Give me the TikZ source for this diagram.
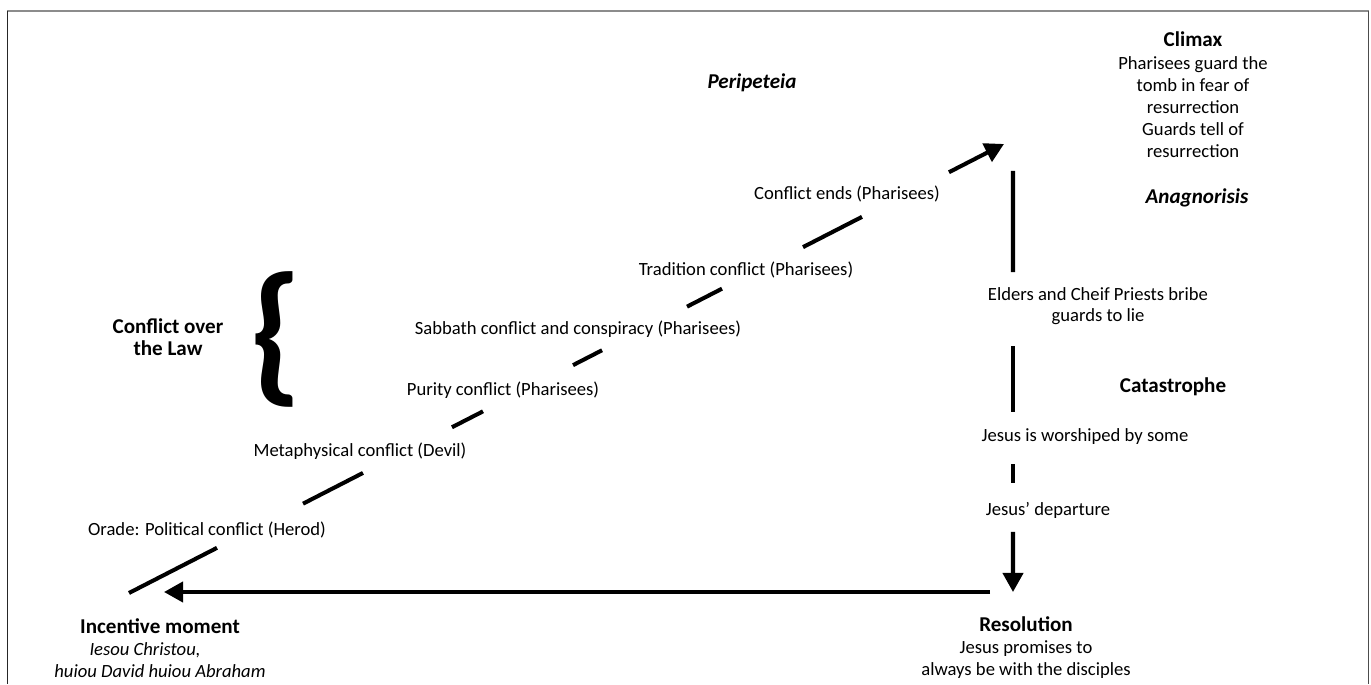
\documentclass[tikz,border=0pt]{standalone}
\usepackage{fontspec}
\setmainfont{Carlito}
\usetikzlibrary{calc,arrows.meta}

\newcommand{\evtfont}{\fontsize{10.6pt}{12.2pt}\selectfont\mdseries}

\tikzset{
  storyline/.style={line width=2.3pt},
  tip/.style={-{Triangle[length=0.38cm,width=0.40cm]}},
  event/.style={font=\evtfont, align=center, inner sep=0pt},
  stage/.style={event, font=\fontsize{12pt}{12.6pt}\selectfont\bfseries},
  turn/.style={event, font=\fontsize{12pt}{12.6pt}\selectfont\bfseries\itshape},
}

\begin{document}
\begin{tikzpicture}
        \useasboundingbox (0,0) rectangle (27.42,13.68);
        \coordinate (inc) at (2.58,1.82);
        \coordinate (clx) at (20.08,10.80);
        \coordinate (fall) at (20.26,10.26);
        \coordinate (res) at (20.26,1.84);
        \coordinate (back) at (19.80,1.84);
        \coordinate (home) at (3.28,1.84);

        % Frame.
        \draw[line width=1.1pt, black!45] (0.15,13.46) -- (27.37,13.46);
        \draw[line width=0.8pt, black!85] (0.15,13.46) -- (0.15,0);
        \draw[line width=0.8pt, black!70] (27.37,13.46) -- (27.37,0);

        % Rising action.
        \draw[storyline] (inc) -- ($(inc)!0.1006!(clx)$);
        \draw[storyline] ($(inc)!0.1989!(clx)$) -- ($(inc)!0.2674!(clx)$);
        \draw[storyline] ($(inc)!0.3691!(clx)$) -- ($(inc)!0.4046!(clx)$);
        \draw[storyline] ($(inc)!0.5074!(clx)$) -- ($(inc)!0.5406!(clx)$);
        \draw[storyline] ($(inc)!0.6377!(clx)$) -- ($(inc)!0.6777!(clx)$);
        \draw[storyline] ($(inc)!0.7703!(clx)$) -- ($(inc)!0.8377!(clx)$);
        \draw[storyline, tip] ($(inc)!0.9371!(clx)$) -- (clx);

        % Falling action.
        \draw[storyline] (fall) -- ($(fall)!0.240!(res)$);
        \draw[storyline] ($(fall)!0.416!(res)$) -- ($(fall)!0.572!(res)$);
        \draw[storyline] ($(fall)!0.696!(res)$) -- ($(fall)!0.741!(res)$);
        \draw[storyline, tip] ($(fall)!0.857!(res)$) -- (res);

        % Back to the beginning.
        \draw[storyline, tip] (back) -- (home);

        % Stages.
        \node[stage] (climax) at (23.86,11.78) {Climax\\\evtfont Pharisees guard the\\\evtfont tomb in fear of\\\evtfont resurrection\\\evtfont Guards tell of\\\evtfont resurrection};
        \node[turn] (peri) at (15.04,12.02) {Peripeteia};
        \node[turn] (anag) at (23.94,9.72) {Anagnorisis};
        \node[stage] (cata) at (23.46,5.94) {Catastrophe};
        \node[stage] (law) at (3.36,6.94) {Conflict over\\the Law};
        \node[event] (brace) at (5.52,6.90) {\fontsize{88pt}{88pt}\selectfont\bfseries\{};
        \node[stage] (incentive) at (3.20,0.72) {Incentive moment\\\evtfont\itshape Iesou Christou,\rule{0.6cm}{0pt}\\\evtfont\itshape huiou David huiou Abraham};
        \node[stage] (resolution) at (20.52,0.73) {Resolution\\\evtfont Jesus promises to\\\evtfont always be with the disciples};

        % Events.
        \node[event] (herod) at (4.14,3.08) {Orade: Political conflict (Herod)};
        \node[event] (devil) at (7.20,4.66) {Metaphysical conflict (Devil)};
        \node[event] (purity) at (10.06,5.88) {Purity conflict (Pharisees)};
        \node[event] (sabbath) at (11.56,7.10) {Sabbath conflict and conspiracy (Pharisees)};
        \node[event] (tradition) at (14.92,8.28) {Tradition conflict (Pharisees)};
        \node[event] (ends) at (16.94,9.80) {Conflict ends (Pharisees)};
        \node[event] (bribe) at (21.96,7.56) {Elders and Cheif Priests bribe\\guards to lie};
        \node[event] (worship) at (21.70,4.94) {Jesus is worshiped by some};
        \node[event] (depart) at (20.96,3.48) {Jesus’ departure};
\end{tikzpicture}
\end{document}
